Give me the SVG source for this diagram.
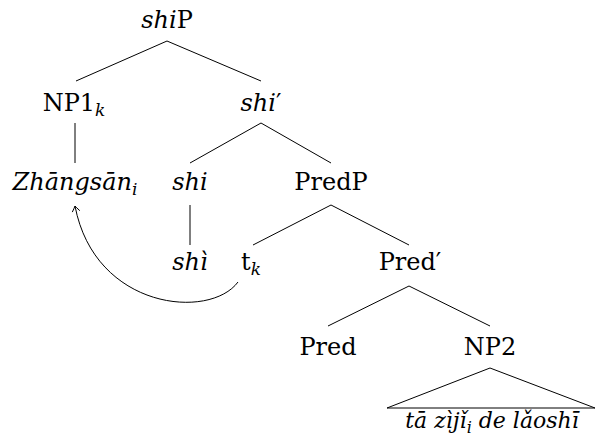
<svg xmlns="http://www.w3.org/2000/svg" width="597" height="448" viewBox="0 0 597 448">
<defs>
<style>
.edge{stroke:#000;stroke-width:1;fill:none}
</style>
</defs>
<rect width="597" height="448" fill="#fff"/>
<g id="connectors">
<line class="edge" x1="167" y1="41" x2="76" y2="81"/>
<line class="edge" x1="167" y1="41" x2="261" y2="81"/>
<line class="edge" x1="75" y1="123" x2="75" y2="163"/>
<line class="edge" x1="261" y1="123" x2="190" y2="163"/>
<line class="edge" x1="261" y1="123" x2="331" y2="163"/>
<line class="edge" x1="190" y1="205" x2="190" y2="245"/>
<line class="edge" x1="331" y1="205" x2="253" y2="245"/>
<line class="edge" x1="331" y1="205" x2="409" y2="245"/>
<line class="edge" x1="409" y1="286" x2="328" y2="326"/>
<line class="edge" x1="409" y1="286" x2="490" y2="326"/>
<path class="edge" d="M490,368 L387,408 L595,408 Z"/>
<path class="edge" d="M238,282 C210,320 95,310 75,206"/>
<path class="edge" d="M72.3,212.1 Q74.5,207.6 75,206 Q76.1,207.3 79.8,210.7"/>
</g>
<g id="shiP"><text x="167" y="28" text-anchor="middle" font-family="DejaVu Serif, serif" font-size="24"><tspan font-style="italic">shi</tspan>P</text></g>
<g id="NP1k"><text x="74" y="111" text-anchor="middle" font-family="DejaVu Serif, serif" font-size="24">NP1<tspan font-style="italic" font-size="17" dy="5">k</tspan></text></g>
<g id="shibar"><text x="261" y="111" text-anchor="middle" font-family="DejaVu Serif, serif" font-size="24"><tspan font-style="italic">shi</tspan>′</text></g>
<g id="Zhangsan"><text x="75" y="190" text-anchor="middle" font-family="DejaVu Serif, serif" font-size="24" font-style="italic">Zhāngsān<tspan font-size="17" dy="5">i</tspan></text></g>
<g id="shi"><text x="190" y="190" text-anchor="middle" font-family="DejaVu Serif, serif" font-size="24" font-style="italic">shi</text></g>
<g id="PredP"><text x="331" y="190" text-anchor="middle" font-family="DejaVu Serif, serif" font-size="24">PredP</text></g>
<g id="shi2"><text x="190" y="270" text-anchor="middle" font-family="DejaVu Serif, serif" font-size="24" font-style="italic">shì</text></g>
<g id="tk"><text x="251" y="270" text-anchor="middle" font-family="DejaVu Serif, serif" font-size="24">t<tspan font-style="italic" font-size="17" dy="5">k</tspan></text></g>
<g id="Predbar"><text x="410" y="270" text-anchor="middle" font-family="DejaVu Serif, serif" font-size="24">Pred′</text></g>
<g id="Pred"><text x="328" y="355" text-anchor="middle" font-family="DejaVu Serif, serif" font-size="24">Pred</text></g>
<g id="NP2"><text x="490" y="355" text-anchor="middle" font-family="DejaVu Serif, serif" font-size="24">NP2</text></g>
<g id="leaf"><text x="492" y="428" text-anchor="middle" font-family="DejaVu Serif, serif" font-size="22" font-style="italic">tā zìjǐ<tspan font-size="16" dy="5">i</tspan><tspan dy="-5"> de lǎoshī</tspan></text></g>
</svg>
